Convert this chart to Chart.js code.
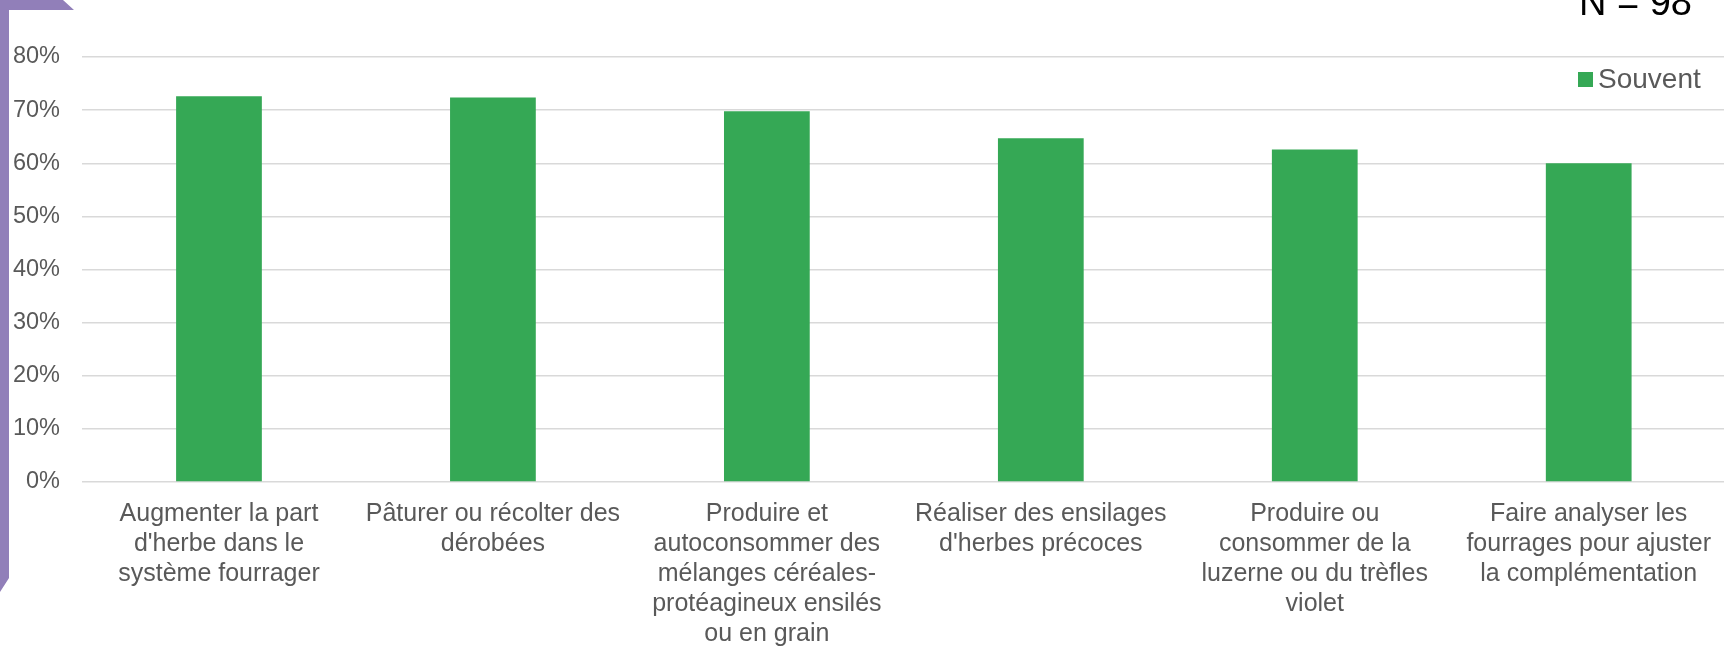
<!DOCTYPE html>
<html>
<head>
<meta charset="utf-8">
<script src="https://cdn.jsdelivr.net/npm/chart.js@4.4.1/dist/chart.umd.min.js"></script>
<style>
  html, body { margin: 0; padding: 0; background: #fff; overflow: hidden; }
  #wrap { position: relative; width: 1724px; height: 648px; overflow: hidden; }
  #frame {
    position: absolute; left: 0; top: 0; width: 80px; height: 600px;
    background: #917fb9;
    clip-path: polygon(0 0, 63px 0, 74px 10px, 9px 10px, 9px 578px, 0 592px);
  }
  #chart { position: absolute; left: 0; top: 0; }
</style>
</head>
<body>
<div id="wrap">
  <div id="frame"></div>
  <canvas id="chart" width="1728" height="648"></canvas>
</div>
<script>
const categories = [
  ['Augmenter la part', "d'herbe dans le", 'système fourrager'],
  ['Pâturer ou récolter des', 'dérobées'],
  ['Produire et', 'autoconsommer des', 'mélanges céréales-', 'protéagineux ensilés', 'ou en grain'],
  ['Réaliser des ensilages', "d'herbes précoces"],
  ['Produire ou', 'consommer de la', 'luzerne ou du trèfles', 'violet'],
  ['Faire analyser les', 'fourrages pour ajuster', 'la complémentation']
];
const souvent = [72.6, 72.4, 69.8, 64.7, 62.6, 60.0];
const seriesName = 'Souvent';
const yTicks = [0, 10, 20, 30, 40, 50, 60, 70, 80];
const sampleNote = 'N = 98';

const green = '#35a855';
const grey = '#595959';
const font = '"Liberation Sans", Arial, sans-serif';

// legend inside plot area + the "N = 98" note
const extras = {
  id: 'extras',
  afterDraw(chart) {
    const ctx = chart.ctx;
    ctx.save();
    ctx.fillStyle = chart.data.datasets[0].backgroundColor;
    ctx.fillRect(1578, 72, 15, 15);
    ctx.fillStyle = grey;
    ctx.font = '28px ' + font;
    ctx.textBaseline = 'middle';
    ctx.textAlign = 'left';
    ctx.fillText(chart.data.datasets[0].label, 1598, 80);

    ctx.fillStyle = '#000';
    ctx.font = '38px ' + font;
    ctx.textBaseline = 'alphabetic';
    ctx.textAlign = 'right';
    ctx.fillText(sampleNote, 1692, 15);
    ctx.restore();
  }
};

new Chart(document.getElementById('chart'), {
  type: 'bar',
  data: {
    labels: categories,
    datasets: [{
      label: seriesName,
      data: souvent,
      backgroundColor: green,
      barPercentage: 1,
      categoryPercentage: 0.313
    }]
  },
  options: {
    responsive: false,
    animation: false,
    layout: { padding: { top: 57, left: 0, right: 0, bottom: 0 } },
    plugins: {
      legend: { display: false },
      tooltip: { enabled: false }
    },
    scales: {
      x: {
        grid: { display: false, drawTicks: false },
        border: { display: false },
        ticks: {
          color: grey,
          font: { family: font, size: 25, lineHeight: 1.2 },
          padding: 17,
          maxRotation: 0,
          autoSkip: false
        },
        afterFit(scale) { scale.height = 166; }
      },
      y: {
        min: 0,
        max: 80,
        afterBuildTicks(scale) { scale.ticks = yTicks.map(v => ({ value: v })); },
        grid: { color: '#d9d9d9', lineWidth: 1.4, drawTicks: false },
        border: { display: false },
        ticks: {
          color: grey,
          font: { family: font, size: 23.5 },
          padding: 22,
          callback: v => v + '%'
        },
        afterFit(scale) { scale.width = 82; }
      }
    }
  },
  plugins: [extras]
});
</script>
</body>
</html>
